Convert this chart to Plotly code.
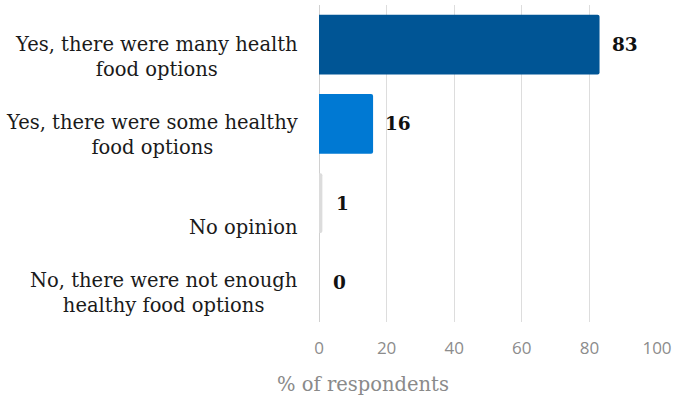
import plotly.graph_objects as go

# Survey responses: were there healthy food options?
categories = [
    "Yes, there were many health<br>food options",
    "Yes, there were some healthy<br>food options",
    "No opinion",
    "No, there were not enough<br>healthy food options",
]
values = [83, 16, 1, 0]
value_labels = ["83", "16", "1", "0"]
bar_colors = ["#005595", "#0079D3", "#DCDCDC", "#DCDCDC"]
x_ticks = [0, 20, 40, 60, 80, 100]
x_title = "% of respondents"

W, H = 677, 399
L, R, T, B = 319, 17, 5, 77

fig = go.Figure(
    go.Bar(
        x=values,
        y=list(range(len(categories))),
        orientation="h",
        marker=dict(color=bar_colors, cornerradius=2, line=dict(width=0)),
        hoverinfo="skip",
    )
)

# Category labels sit to the left of the plot, first line level with the bar
label_shift = [-12, -11, -24, -11]
label_x = (300 - L) / (W - L - R)
for i, (cat, dy) in enumerate(zip(categories, label_shift)):
    fig.add_annotation(
        text=cat, x=label_x, xref="paper", y=i, yref="y",
        xanchor="right", yanchor="middle", align="center" if "<br>" in cat else "right",
        yshift=dy, showarrow=False,
        font=dict(family="DejaVu Serif", size=19.5, color="#1a1a1a"),
    )

# Bold value labels just past each bar end
for i, (v, lab) in enumerate(zip(values, value_labels)):
    fig.add_annotation(
        text=f"<b>{lab}</b>", x=v, xref="x", y=i, yref="y",
        xanchor="left", yanchor="middle", xshift=10 if v > 1 else 12,
        showarrow=False,
        font=dict(family="DejaVu Serif", size=18.5, color="#111111"),
    )

# Axis title placed below the tick labels
fig.add_annotation(
    text=x_title, x=(363 - L) / (W - L - R), xref="paper",
    y=-(384 - (H - T - B) - T) / (H - T - B), yref="paper",
    xanchor="center", yanchor="middle", showarrow=False,
    font=dict(family="DejaVu Serif", size=19.5, color="#8a8a8a"),
)

fig.update_layout(
    width=W, height=H,
    margin=dict(l=L, r=R, t=T, b=B),
    paper_bgcolor="white", plot_bgcolor="white",
    bargap=0.243,
    showlegend=False,
    xaxis=dict(
        range=[0, 100], tickvals=x_ticks, showgrid=True, gridcolor="#DDDDDD",
        gridwidth=1, zeroline=True, zerolinecolor="#D0D0D0", zerolinewidth=1,
        showline=False, ticks="", ticklabelstandoff=14,
        tickfont=dict(family="Open Sans", size=17, color="#8c8c8c"),
        fixedrange=True,
    ),
    yaxis=dict(
        range=[3.5, -0.5], showticklabels=False, showgrid=False,
        zeroline=False, ticks="", fixedrange=True,
    ),
)

fig.write_html("out.html", config={"displayModeBar": False})
